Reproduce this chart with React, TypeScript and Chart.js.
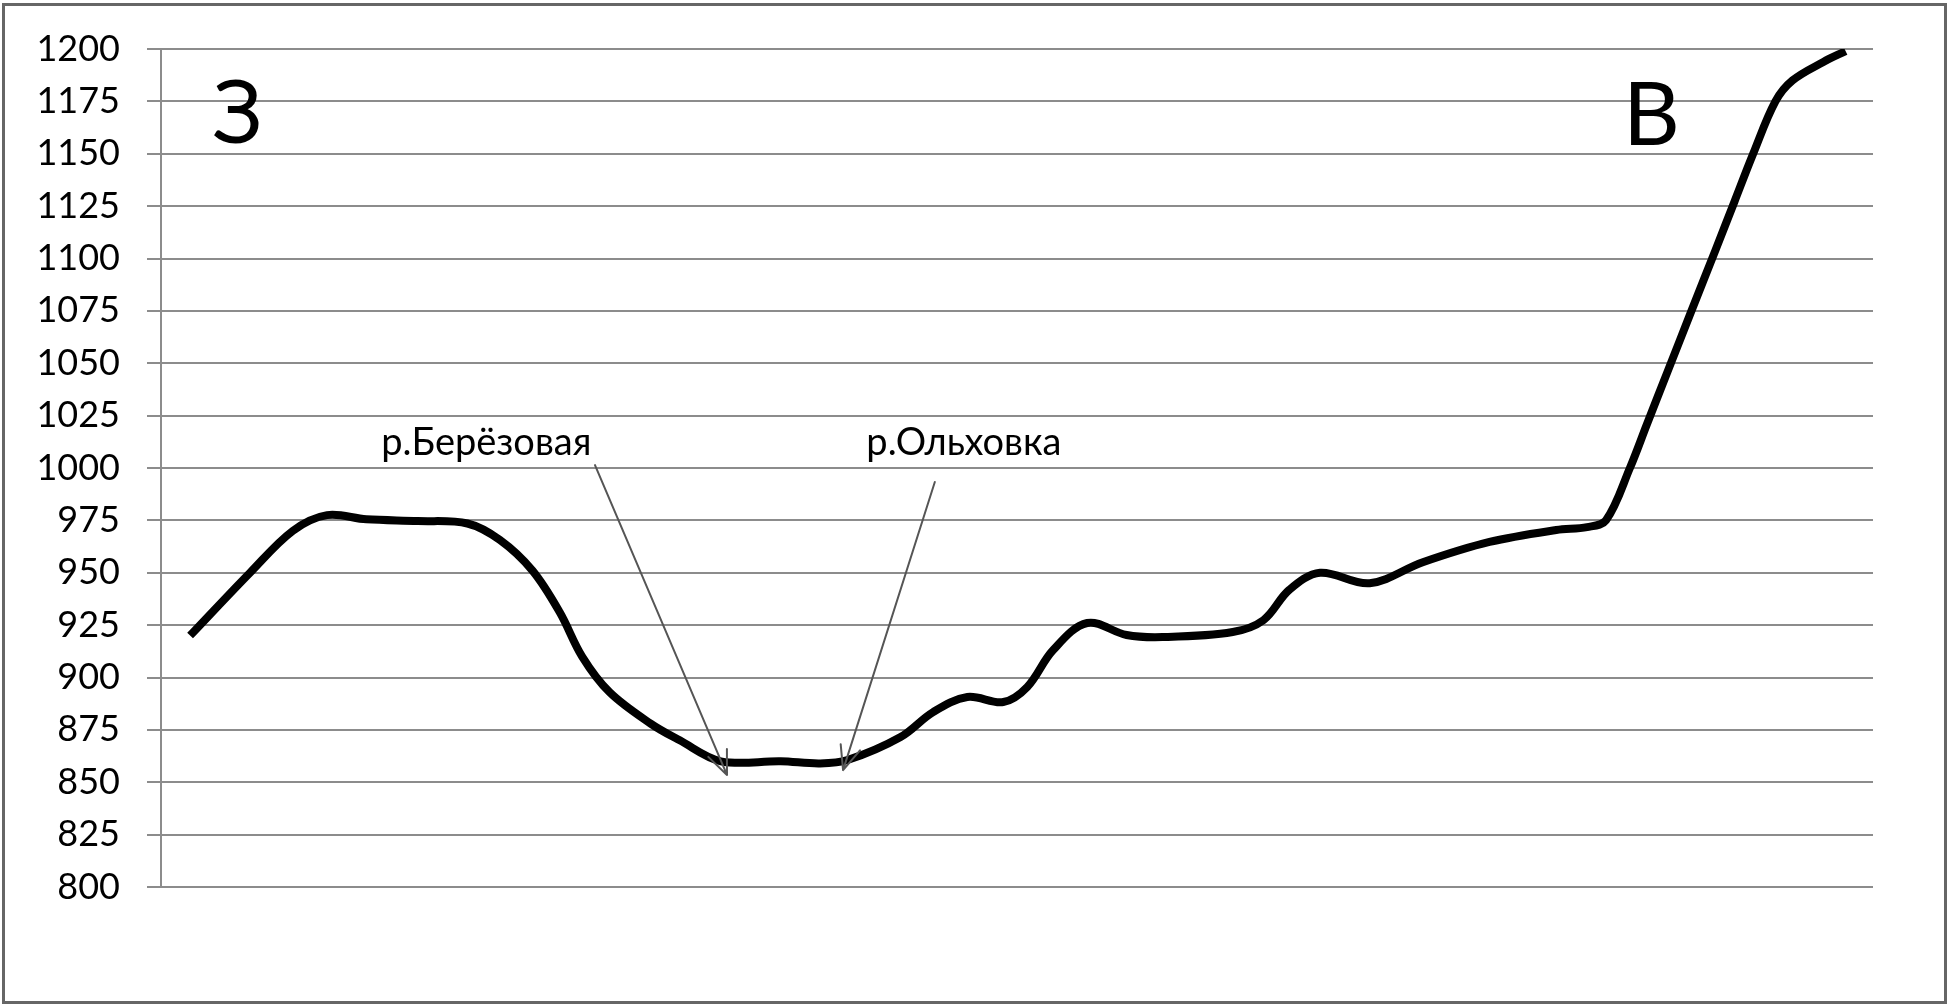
import React, { useEffect, useRef } from "react";
import { Chart, registerables } from "chart.js";

Chart.register(...registerables);

// Profile: distance along the line (relative units, 0..100) and elevation, m
const distance = [
  1.7, 5.2, 7.7, 9.7, 12.0, 15.0, 17.9, 19.8, 21.7, 23.3, 24.6, 26.2, 28.6,
  30.3, 32.7, 36.2, 38.5, 40.1, 43.2, 45.1, 47.1, 49.2, 50.6, 52.1, 54.1,
  56.4, 58.5, 62.6, 64.4, 65.9, 67.7, 70.6, 73.7, 77.6, 81.5, 83.3, 84.4,
  85.8, 86.8, 88.0, 89.3, 90.8, 91.9, 93.0, 94.3, 95.3, 97.1, 98.4,
];
const elevation = [
  920, 950, 970, 977.5, 975.5, 974.7, 973.5, 965.6, 951, 931, 910, 893, 878,
  870, 860, 860, 859, 860.6, 871.6, 883.5, 890.7, 888.3, 895.5, 913, 926,
  920.3, 919.3, 921.7, 927.4, 941.8, 950, 945, 955, 964.7, 970.4, 971.8, 975,
  1000, 1021, 1046, 1073, 1104, 1127, 1150, 1175, 1185, 1193.8, 1199,
];

// Y axis tick values and labels
const yTickValues = [
  800, 825, 850, 875, 900, 925, 950, 975, 1000, 1025, 1050, 1075, 1100, 1125,
  1150, 1175, 1200,
];
const yTickLabels = yTickValues.map((v) => String(v));

// River annotations (label centre/baseline + arrow from -> to, in data units)
const riverLabels = ["р.Берёзовая", "р.Ольховка"];
const riverLabelX = [19.0, 46.9];
const riverLabelY = [1006, 1006];
const arrowFromX = [25.35, 45.2];
const arrowFromY = [1001.4, 993.3];
const arrowToX = [33.06, 39.84];
const arrowToY = [853.5, 855.8];

// Direction letters (west / east), left edge + baseline in data units
const directionLabels = ["З", "В"];
const directionX = [3.0, 85.4];
const directionY = [1155, 1154];

const FONT = "Lato, 'Open Sans', 'DejaVu Sans', sans-serif";

export default function App() {
  const ref = useRef<HTMLCanvasElement | null>(null);

  useEffect(() => {
    document.body.style.margin = "0";
    const canvas = ref.current;
    if (!canvas) return;

    const frame = {
      id: "frame",
      beforeDraw(chart: any) {
        const ctx = chart.ctx;
        ctx.save();
        ctx.fillStyle = "#ffffff";
        ctx.fillRect(0, 0, chart.width, chart.height);
        ctx.strokeStyle = "#666666";
        ctx.lineWidth = 3;
        ctx.strokeRect(3.5, 4.5, chart.width - 8, chart.height - 7);
        ctx.restore();
      },
    };

    const annotations = {
      id: "annotations",
      afterDatasetsDraw(chart: any) {
        const ctx = chart.ctx;
        const xs = chart.scales.x;
        const ys = chart.scales.y;
        ctx.save();
        ctx.fillStyle = "#000";
        ctx.textAlign = "left";
        ctx.textBaseline = "alphabetic";
        ctx.font = `88px ${FONT}`;
        directionLabels.forEach((t, i) => {
          ctx.fillText(t, xs.getPixelForValue(directionX[i]), ys.getPixelForValue(directionY[i]));
        });
        ctx.font = `38px ${FONT}`;
        ctx.textAlign = "center";
        riverLabels.forEach((t, i) => {
          ctx.fillText(t, xs.getPixelForValue(riverLabelX[i]), ys.getPixelForValue(riverLabelY[i]));
        });
        ctx.strokeStyle = "#555555";
        ctx.lineWidth = 2;
        ctx.lineCap = "round";
        riverLabels.forEach((_, i) => {
          const x1 = xs.getPixelForValue(arrowFromX[i]);
          const y1 = ys.getPixelForValue(arrowFromY[i]);
          const x2 = xs.getPixelForValue(arrowToX[i]);
          const y2 = ys.getPixelForValue(arrowToY[i]);
          ctx.beginPath();
          ctx.moveTo(x1, y1);
          ctx.lineTo(x2, y2);
          const ang = Math.atan2(y2 - y1, x2 - x1);
          const len = 26;
          const spread = 0.4;
          ctx.moveTo(x2, y2);
          ctx.lineTo(x2 - len * Math.cos(ang - spread), y2 - len * Math.sin(ang - spread));
          ctx.moveTo(x2, y2);
          ctx.lineTo(x2 - len * Math.cos(ang + spread), y2 - len * Math.sin(ang + spread));
          ctx.stroke();
        });
        ctx.restore();
      },
    };

    const chart = new Chart(canvas, {
      type: "line",
      data: {
        datasets: [
          {
            data: distance.map((d, i) => ({ x: d, y: elevation[i] })),
            borderColor: "#000000",
            borderWidth: 8,
            pointRadius: 0,
            fill: false,
            tension: 0.35,
            borderJoinStyle: "round",
            borderCapStyle: "butt",
          },
        ],
      },
      options: {
        responsive: false,
        animation: false,
        events: [],
        layout: { padding: { left: 0, top: 49, right: 77, bottom: 118 } },
        plugins: {
          legend: { display: false },
          tooltip: { enabled: false },
        },
        scales: {
          x: {
            type: "linear",
            min: 0,
            max: 100,
            display: false,
          },
          y: {
            type: "linear",
            min: 800,
            max: 1200,
            afterBuildTicks: (scale: any) => {
              scale.ticks = yTickValues.map((v) => ({ value: v }));
            },
            afterFit: (scale: any) => {
              scale.width = 161;
            },
            grid: {
              color: "#8c8c8c",
              lineWidth: 2,
              drawTicks: true,
              tickLength: 14,
              tickColor: "#8c8c8c",
            },
            border: { display: true, color: "#8c8c8c", width: 2 },
            ticks: {
              color: "#000000",
              padding: 27,
              font: { family: FONT, size: 36 },
              callback: (_v: any, i: number) => yTickLabels[i],
            },
          },
        },
      },
      plugins: [frame, annotations],
    });

    return () => chart.destroy();
  }, []);

  return (
    <div style={{ width: 1950, height: 1005 }}>
      <canvas ref={ref} width={1950} height={1005} style={{ display: "block" }} />
    </div>
  );
}
